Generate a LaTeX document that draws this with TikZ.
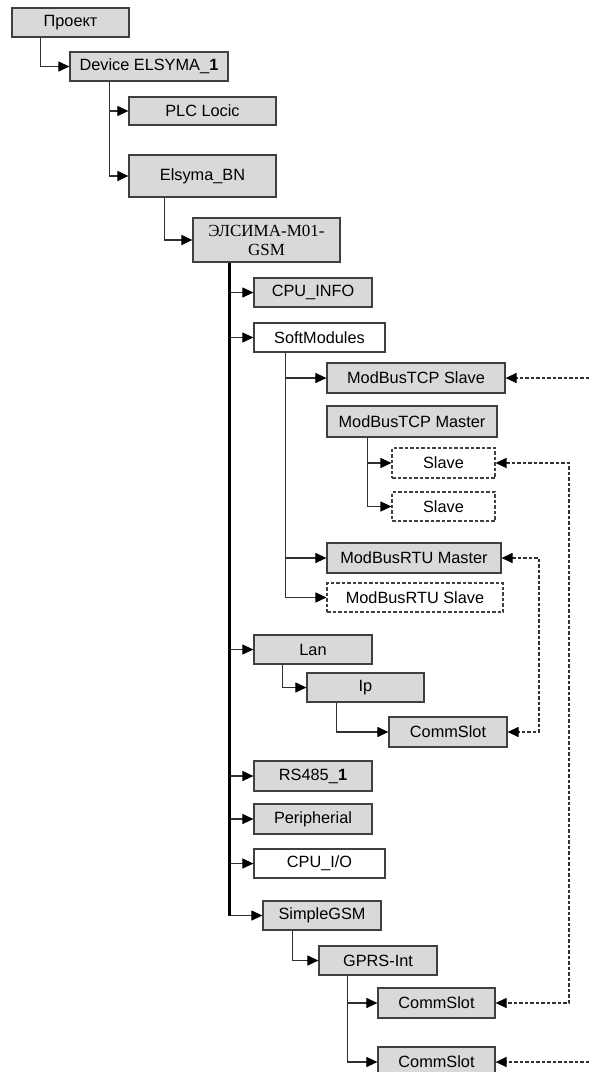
\documentclass[tikz,border=0pt]{standalone}
\usepackage{fontspec}
\setmainfont{Liberation Sans}
\newfontfamily\serifcyr{Liberation Serif}
\usetikzlibrary{arrows.meta}
\definecolor{boxgray}{HTML}{D9D9D9}
\definecolor{edgegray}{HTML}{404040}
\definecolor{linegray}{HTML}{303030}
\tikzset{
  tip/.tip={Triangle[length=11pt,width=10pt,color=black,fill=black]},
  nbox/.style={draw=edgegray, line width=1.2pt, fill=boxgray, inner sep=0pt,
    font=\fontsize{16.3}{19}\selectfont, text=black},
  wbox/.style={nbox, fill=white},
  dbox/.style={nbox, fill=white, line width=1.1pt, dash pattern=on 3.5pt off 2pt},
  conn/.style={draw=linegray, line width=1.1pt, -tip},
  trunk/.style={draw=black, line width=2.3pt},
  dconn/.style={draw=linegray, line width=1.2pt, dash pattern=on 3.5pt off 2pt, tip-tip},
  dconn1/.style={draw=linegray, line width=1.2pt, dash pattern=on 3.5pt off 2pt, -tip},
}
\begin{document}
\begin{tikzpicture}[x=1pt,y=-1pt]
\useasboundingbox[fill=white] (0,0) rectangle (589,1072);
% nodes
\node[nbox, minimum width=117pt, minimum height=29pt] (proj) at (70.5,22.5) {Проект};
\node[nbox, minimum width=158pt, minimum height=29pt] (dev) at (149,66.5) {Device ELSYMA\_\textbf{1}};
\node[nbox, minimum width=147pt, minimum height=28pt] (plc) at (202.5,111) {PLC Locic};
\node[nbox, minimum width=147pt, minimum height=42pt] (bn) at (202.5,176) {Elsyma\_BN};
\node[nbox, minimum width=147pt, minimum height=44pt, align=center,
  font=\serifcyr\fontsize{17}{19}\selectfont] (els) at (266.5,240) {ЭЛСИМА-М01-\\GSM};
\node[nbox, minimum width=118pt, minimum height=29pt] (cpuinfo) at (313,292.5) {CPU\_INFO};
\node[wbox, minimum width=131pt, minimum height=29pt] (soft) at (319.5,337.5) {SoftModules};
\node[nbox, minimum width=178pt, minimum height=30pt] (tcps) at (416,378) {ModBusTCP Slave};
\node[nbox, minimum width=170pt, minimum height=31pt] (tcpm) at (412,421.5) {ModBusTCP Master};
\node[dbox, minimum width=103pt, minimum height=30pt] (sl1) at (443.5,463) {Slave};
\node[dbox, minimum width=103pt, minimum height=29pt] (sl2) at (443.5,506.5) {Slave};
\node[nbox, minimum width=174pt, minimum height=30pt] (rtum) at (414,558) {ModBusRTU Master};
\node[dbox, minimum width=176pt, minimum height=29pt] (rtus) at (415,597.5) {ModBusRTU Slave};
\node[nbox, minimum width=118pt, minimum height=29pt] (lan) at (313,649.5) {Lan};
\node[nbox, minimum width=117pt, minimum height=29pt] (ip) at (365.5,687.5) {Ip};
\node[nbox, minimum width=118pt, minimum height=30pt] (cs0) at (448,732) {CommSlot};
\node[nbox, minimum width=118pt, minimum height=30pt] (rs) at (313,776) {RS485\_\textbf{1}};
\node[nbox, minimum width=118pt, minimum height=30pt] (per) at (313,819) {Peripherial};
\node[wbox, minimum width=131pt, minimum height=29pt] (cpuio) at (319.5,863.5) {CPU\_I/O};
\node[nbox, minimum width=118pt, minimum height=29pt] (sgsm) at (322,915.5) {SimpleGSM};
\node[nbox, minimum width=118pt, minimum height=29pt] (gprs) at (378,960.5) {GPRS-Int};
\node[nbox, minimum width=117pt, minimum height=30pt] (cs1) at (436.5,1003) {CommSlot};
\node[nbox, minimum width=117pt, minimum height=30pt] (cs2) at (436.5,1062) {CommSlot};
% free ends
\coordinate (e1) at (589,378);
\coordinate (e2) at (589,1062);
\coordinate (v1) at (569,0);
\coordinate (v2) at (539,0);
% tree connectors
\draw[conn] ([xshift=29pt]proj.south west) |- (dev.west);
\draw[conn] ([xshift=40pt]dev.south west) |- (plc.west);
\draw[conn] ([xshift=40pt]dev.south west) |- (bn.west);
\draw[conn] ([xshift=36pt]bn.south west) |- (els.west);
\foreach \n in {cpuinfo,soft,lan,rs,per,cpuio,sgsm}
  \draw[conn] ([xshift=37pt]els.south west) |- (\n.west);
\draw[trunk] ([xshift=37pt]els.south west) -- ([xshift=37pt]els.south west |- sgsm.west);
\foreach \n in {tcps,rtum,rtus}
  \draw[conn] ([xshift=32pt]soft.south west) |- (\n.west);
\foreach \n in {sl1,sl2}
  \draw[conn] ([xshift=41pt]tcpm.south west) |- (\n.west);
\draw[conn] ([xshift=29pt]lan.south west) |- (ip.west);
\draw[conn] ([xshift=30pt]ip.south west) |- (cs0.west);
\draw[conn] ([xshift=30pt]sgsm.south west) |- (gprs.west);
\foreach \n in {cs1,cs2}
  \draw[conn] ([xshift=29pt]gprs.south west) |- (\n.west);
% dashed links
\draw[dconn1] (e1) -- (tcps.east);
\draw[dconn1] (e2) -- (cs2.east);
\draw[dconn] (sl1.east) -- (sl1.east -| v1) |- (cs1.east);
\draw[dconn] (rtum.east) -- (rtum.east -| v2) |- (cs0.east);
\end{tikzpicture}
\end{document}
